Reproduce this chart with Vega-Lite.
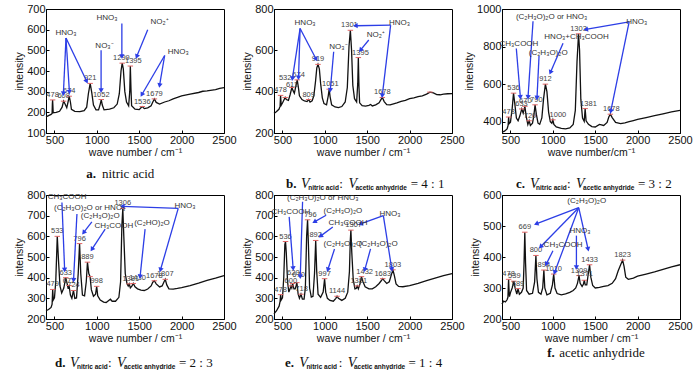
{
"$schema": "https://vega.github.io/schema/vega-lite/v6.json",
"background": "white",
"padding": {"left": 14, "top": 2, "right": 5, "bottom": 0},
"columns": 3,
"spacing": {"row": 62, "column": 50},
"bounds": "flush",
"config": {
  "view": {"stroke": "#000", "strokeWidth": 1},
  "axis": {"grid": false, "domainColor": "#000", "tickColor": "#000", "labelColor": "#111", "titleColor": "#111",
    "labelFont": "Liberation Sans", "titleFont": "Liberation Sans",
    "labelFontSize": 11, "titleFontSize": 10.5, "titleFontWeight": "normal", "tickSize": -3, "labelPadding": 4, "labelFlush": false},
  "axisX": {"titlePadding": 2},
  "axisY": {"titlePadding": 2}
},
"datasets": {
"sp": [
{"p":"a","x":400,"y":178},{"p":"a","x":430,"y":184},{"p":"a","x":460,"y":190},{"p":"a","x":472,"y":195},{"p":"a","x":475,"y":240},{"p":"a","x":478,"y":260},{"p":"a","x":481,"y":235},{"p":"a","x":485,"y":198},{"p":"a","x":520,"y":200},{"p":"a","x":560,"y":205},{"p":"a","x":590,"y":225},{"p":"a","x":608,"y":254},{"p":"a","x":625,"y":240},{"p":"a","x":645,"y":222},{"p":"a","x":660,"y":250},{"p":"a","x":674,"y":278},{"p":"a","x":688,"y":250},{"p":"a","x":700,"y":215},{"p":"a","x":740,"y":205},{"p":"a","x":800,"y":203},{"p":"a","x":850,"y":208},{"p":"a","x":880,"y":225},{"p":"a","x":900,"y":290},{"p":"a","x":921,"y":340},{"p":"a","x":940,"y":295},{"p":"a","x":960,"y":235},{"p":"a","x":990,"y":212},{"p":"a","x":1020,"y":212},{"p":"a","x":1040,"y":240},{"p":"a","x":1052,"y":262},{"p":"a","x":1064,"y":235},{"p":"a","x":1085,"y":212},{"p":"a","x":1150,"y":215},{"p":"a","x":1200,"y":222},{"p":"a","x":1240,"y":240},{"p":"a","x":1265,"y":290},{"p":"a","x":1285,"y":400},{"p":"a","x":1299,"y":438},{"p":"a","x":1312,"y":410},{"p":"a","x":1330,"y":300},{"p":"a","x":1350,"y":250},{"p":"a","x":1375,"y":232},{"p":"a","x":1388,"y":300},{"p":"a","x":1395,"y":424},{"p":"a","x":1402,"y":320},{"p":"a","x":1410,"y":232},{"p":"a","x":1450,"y":215},{"p":"a","x":1500,"y":213},{"p":"a","x":1520,"y":222},{"p":"a","x":1536,"y":228},{"p":"a","x":1560,"y":218},{"p":"a","x":1600,"y":222},{"p":"a","x":1640,"y":232},{"p":"a","x":1660,"y":250},{"p":"a","x":1679,"y":265},{"p":"a","x":1700,"y":248},{"p":"a","x":1740,"y":240},{"p":"a","x":1800,"y":250},{"p":"a","x":1850,"y":256},{"p":"a","x":1900,"y":265},{"p":"a","x":1950,"y":272},{"p":"a","x":2000,"y":280},{"p":"a","x":2100,"y":288},{"p":"a","x":2200,"y":296},{"p":"a","x":2250,"y":302},{"p":"a","x":2300,"y":304},{"p":"a","x":2400,"y":310},{"p":"a","x":2450,"y":316},{"p":"a","x":2500,"y":320},
{"p":"b","x":400,"y":295},{"p":"b","x":420,"y":300},{"p":"b","x":440,"y":308},{"p":"b","x":460,"y":316},{"p":"b","x":472,"y":330},{"p":"b","x":476,"y":368},{"p":"b","x":478,"y":382},{"p":"b","x":481,"y":360},{"p":"b","x":486,"y":335},{"p":"b","x":500,"y":345},{"p":"b","x":520,"y":362},{"p":"b","x":532,"y":372},{"p":"b","x":545,"y":362},{"p":"b","x":570,"y":358},{"p":"b","x":590,"y":385},{"p":"b","x":611,"y":420},{"p":"b","x":625,"y":405},{"p":"b","x":640,"y":392},{"p":"b","x":660,"y":430},{"p":"b","x":674,"y":457},{"p":"b","x":688,"y":420},{"p":"b","x":700,"y":380},{"p":"b","x":730,"y":362},{"p":"b","x":760,"y":355},{"p":"b","x":790,"y":352},{"p":"b","x":809,"y":362},{"p":"b","x":825,"y":350},{"p":"b","x":850,"y":356},{"p":"b","x":870,"y":380},{"p":"b","x":890,"y":450},{"p":"b","x":905,"y":515},{"p":"b","x":919,"y":532},{"p":"b","x":935,"y":510},{"p":"b","x":950,"y":440},{"p":"b","x":970,"y":370},{"p":"b","x":990,"y":342},{"p":"b","x":1020,"y":336},{"p":"b","x":1040,"y":380},{"p":"b","x":1051,"y":412},{"p":"b","x":1062,"y":375},{"p":"b","x":1080,"y":336},{"p":"b","x":1120,"y":326},{"p":"b","x":1160,"y":323},{"p":"b","x":1200,"y":328},{"p":"b","x":1240,"y":350},{"p":"b","x":1265,"y":420},{"p":"b","x":1285,"y":620},{"p":"b","x":1301,"y":697},{"p":"b","x":1315,"y":600},{"p":"b","x":1330,"y":430},{"p":"b","x":1350,"y":366},{"p":"b","x":1375,"y":350},{"p":"b","x":1388,"y":440},{"p":"b","x":1395,"y":565},{"p":"b","x":1402,"y":430},{"p":"b","x":1410,"y":346},{"p":"b","x":1440,"y":332},{"p":"b","x":1480,"y":330},{"p":"b","x":1520,"y":334},{"p":"b","x":1540,"y":338},{"p":"b","x":1560,"y":331},{"p":"b","x":1600,"y":336},{"p":"b","x":1640,"y":346},{"p":"b","x":1660,"y":360},{"p":"b","x":1678,"y":372},{"p":"b","x":1700,"y":352},{"p":"b","x":1730,"y":337},{"p":"b","x":1770,"y":336},{"p":"b","x":1800,"y":340},{"p":"b","x":1850,"y":346},{"p":"b","x":1900,"y":353},{"p":"b","x":1950,"y":358},{"p":"b","x":2000,"y":366},{"p":"b","x":2050,"y":370},{"p":"b","x":2100,"y":376},{"p":"b","x":2150,"y":380},{"p":"b","x":2200,"y":388},{"p":"b","x":2240,"y":398},{"p":"b","x":2280,"y":394},{"p":"b","x":2320,"y":386},{"p":"b","x":2360,"y":385},{"p":"b","x":2400,"y":388},{"p":"b","x":2450,"y":390},{"p":"b","x":2500,"y":391},
{"p":"c","x":400,"y":345},{"p":"c","x":430,"y":350},{"p":"c","x":460,"y":362},{"p":"c","x":472,"y":380},{"p":"c","x":478,"y":425},{"p":"c","x":484,"y":390},{"p":"c","x":500,"y":398},{"p":"c","x":520,"y":470},{"p":"c","x":536,"y":552},{"p":"c","x":550,"y":500},{"p":"c","x":570,"y":420},{"p":"c","x":590,"y":405},{"p":"c","x":610,"y":430},{"p":"c","x":633,"y":468},{"p":"c","x":650,"y":445},{"p":"c","x":670,"y":482},{"p":"c","x":685,"y":430},{"p":"c","x":705,"y":385},{"p":"c","x":720,"y":405},{"p":"c","x":735,"y":380},{"p":"c","x":760,"y":392},{"p":"c","x":775,"y":430},{"p":"c","x":790,"y":490},{"p":"c","x":805,"y":440},{"p":"c","x":825,"y":392},{"p":"c","x":845,"y":386},{"p":"c","x":870,"y":420},{"p":"c","x":890,"y":520},{"p":"c","x":912,"y":600},{"p":"c","x":930,"y":560},{"p":"c","x":950,"y":450},{"p":"c","x":970,"y":400},{"p":"c","x":988,"y":392},{"p":"c","x":1000,"y":410},{"p":"c","x":1012,"y":386},{"p":"c","x":1040,"y":372},{"p":"c","x":1100,"y":365},{"p":"c","x":1150,"y":362},{"p":"c","x":1200,"y":367},{"p":"c","x":1240,"y":385},{"p":"c","x":1265,"y":460},{"p":"c","x":1285,"y":720},{"p":"c","x":1303,"y":868},{"p":"c","x":1315,"y":780},{"p":"c","x":1330,"y":520},{"p":"c","x":1350,"y":420},{"p":"c","x":1370,"y":402},{"p":"c","x":1381,"y":470},{"p":"c","x":1392,"y":405},{"p":"c","x":1420,"y":386},{"p":"c","x":1460,"y":374},{"p":"c","x":1500,"y":372},{"p":"c","x":1550,"y":386},{"p":"c","x":1600,"y":380},{"p":"c","x":1640,"y":396},{"p":"c","x":1660,"y":425},{"p":"c","x":1678,"y":440},{"p":"c","x":1700,"y":422},{"p":"c","x":1740,"y":396},{"p":"c","x":1800,"y":390},{"p":"c","x":1850,"y":394},{"p":"c","x":1900,"y":400},{"p":"c","x":1950,"y":406},{"p":"c","x":2000,"y":412},{"p":"c","x":2100,"y":422},{"p":"c","x":2200,"y":432},{"p":"c","x":2300,"y":442},{"p":"c","x":2400,"y":452},{"p":"c","x":2500,"y":460},
{"p":"d","x":400,"y":240},{"p":"d","x":430,"y":246},{"p":"d","x":460,"y":256},{"p":"d","x":472,"y":272},{"p":"d","x":479,"y":343},{"p":"d","x":486,"y":292},{"p":"d","x":500,"y":302},{"p":"d","x":515,"y":380},{"p":"d","x":533,"y":600},{"p":"d","x":548,"y":480},{"p":"d","x":565,"y":360},{"p":"d","x":585,"y":326},{"p":"d","x":610,"y":350},{"p":"d","x":633,"y":400},{"p":"d","x":650,"y":370},{"p":"d","x":662,"y":346},{"p":"d","x":672,"y":362},{"p":"d","x":688,"y":316},{"p":"d","x":705,"y":300},{"p":"d","x":724,"y":338},{"p":"d","x":740,"y":300},{"p":"d","x":760,"y":302},{"p":"d","x":780,"y":420},{"p":"d","x":796,"y":565},{"p":"d","x":810,"y":420},{"p":"d","x":830,"y":316},{"p":"d","x":855,"y":312},{"p":"d","x":875,"y":380},{"p":"d","x":889,"y":475},{"p":"d","x":905,"y":420},{"p":"d","x":920,"y":405},{"p":"d","x":935,"y":342},{"p":"d","x":960,"y":310},{"p":"d","x":985,"y":320},{"p":"d","x":998,"y":358},{"p":"d","x":1010,"y":312},{"p":"d","x":1040,"y":292},{"p":"d","x":1080,"y":282},{"p":"d","x":1110,"y":280},{"p":"d","x":1140,"y":290},{"p":"d","x":1160,"y":296},{"p":"d","x":1180,"y":286},{"p":"d","x":1220,"y":286},{"p":"d","x":1260,"y":305},{"p":"d","x":1280,"y":380},{"p":"d","x":1295,"y":650},{"p":"d","x":1306,"y":735},{"p":"d","x":1318,"y":600},{"p":"d","x":1335,"y":420},{"p":"d","x":1355,"y":372},{"p":"d","x":1370,"y":360},{"p":"d","x":1381,"y":370},{"p":"d","x":1395,"y":350},{"p":"d","x":1415,"y":360},{"p":"d","x":1430,"y":372},{"p":"d","x":1450,"y":356},{"p":"d","x":1480,"y":346},{"p":"d","x":1520,"y":340},{"p":"d","x":1560,"y":338},{"p":"d","x":1600,"y":345},{"p":"d","x":1640,"y":360},{"p":"d","x":1660,"y":378},{"p":"d","x":1678,"y":385},{"p":"d","x":1700,"y":370},{"p":"d","x":1740,"y":355},{"p":"d","x":1770,"y":360},{"p":"d","x":1790,"y":378},{"p":"d","x":1807,"y":392},{"p":"d","x":1825,"y":365},{"p":"d","x":1850,"y":346},{"p":"d","x":1900,"y":345},{"p":"d","x":1950,"y":348},{"p":"d","x":2000,"y":352},{"p":"d","x":2100,"y":362},{"p":"d","x":2200,"y":374},{"p":"d","x":2300,"y":387},{"p":"d","x":2400,"y":398},{"p":"d","x":2500,"y":410},
{"p":"e","x":400,"y":225},{"p":"e","x":430,"y":240},{"p":"e","x":460,"y":262},{"p":"e","x":472,"y":285},{"p":"e","x":478,"y":318},{"p":"e","x":485,"y":292},{"p":"e","x":500,"y":302},{"p":"e","x":515,"y":400},{"p":"e","x":528,"y":560},{"p":"e","x":536,"y":575},{"p":"e","x":545,"y":520},{"p":"e","x":560,"y":380},{"p":"e","x":575,"y":330},{"p":"e","x":590,"y":346},{"p":"e","x":600,"y":360},{"p":"e","x":610,"y":350},{"p":"e","x":620,"y":372},{"p":"e","x":635,"y":346},{"p":"e","x":650,"y":346},{"p":"e","x":660,"y":360},{"p":"e","x":670,"y":376},{"p":"e","x":685,"y":320},{"p":"e","x":700,"y":300},{"p":"e","x":718,"y":320},{"p":"e","x":735,"y":296},{"p":"e","x":755,"y":296},{"p":"e","x":770,"y":350},{"p":"e","x":785,"y":600},{"p":"e","x":796,"y":680},{"p":"e","x":806,"y":560},{"p":"e","x":820,"y":350},{"p":"e","x":840,"y":306},{"p":"e","x":860,"y":310},{"p":"e","x":878,"y":420},{"p":"e","x":892,"y":580},{"p":"e","x":904,"y":430},{"p":"e","x":920,"y":320},{"p":"e","x":950,"y":305},{"p":"e","x":980,"y":330},{"p":"e","x":997,"y":395},{"p":"e","x":1010,"y":330},{"p":"e","x":1030,"y":300},{"p":"e","x":1060,"y":290},{"p":"e","x":1100,"y":286},{"p":"e","x":1130,"y":300},{"p":"e","x":1144,"y":310},{"p":"e","x":1160,"y":300},{"p":"e","x":1200,"y":290},{"p":"e","x":1240,"y":300},{"p":"e","x":1270,"y":330},{"p":"e","x":1290,"y":430},{"p":"e","x":1300,"y":580},{"p":"e","x":1307,"y":630},{"p":"e","x":1318,"y":520},{"p":"e","x":1335,"y":390},{"p":"e","x":1355,"y":346},{"p":"e","x":1370,"y":348},{"p":"e","x":1381,"y":360},{"p":"e","x":1395,"y":346},{"p":"e","x":1415,"y":370},{"p":"e","x":1432,"y":405},{"p":"e","x":1450,"y":380},{"p":"e","x":1475,"y":356},{"p":"e","x":1520,"y":346},{"p":"e","x":1560,"y":346},{"p":"e","x":1600,"y":356},{"p":"e","x":1640,"y":372},{"p":"e","x":1665,"y":385},{"p":"e","x":1683,"y":395},{"p":"e","x":1700,"y":386},{"p":"e","x":1730,"y":372},{"p":"e","x":1760,"y":380},{"p":"e","x":1785,"y":415},{"p":"e","x":1803,"y":438},{"p":"e","x":1820,"y":410},{"p":"e","x":1840,"y":370},{"p":"e","x":1870,"y":358},{"p":"e","x":1920,"y":356},{"p":"e","x":2000,"y":362},{"p":"e","x":2100,"y":372},{"p":"e","x":2200,"y":386},{"p":"e","x":2300,"y":398},{"p":"e","x":2400,"y":410},{"p":"e","x":2500,"y":420},
{"p":"f","x":400,"y":248},{"p":"f","x":420,"y":258},{"p":"f","x":440,"y":255},{"p":"f","x":460,"y":262},{"p":"f","x":470,"y":270},{"p":"f","x":475,"y":310},{"p":"f","x":478,"y":328},{"p":"f","x":482,"y":300},{"p":"f","x":488,"y":272},{"p":"f","x":500,"y":285},{"p":"f","x":520,"y":300},{"p":"f","x":539,"y":322},{"p":"f","x":555,"y":300},{"p":"f","x":575,"y":280},{"p":"f","x":589,"y":298},{"p":"f","x":605,"y":280},{"p":"f","x":630,"y":286},{"p":"f","x":650,"y":300},{"p":"f","x":660,"y":380},{"p":"f","x":669,"y":480},{"p":"f","x":678,"y":380},{"p":"f","x":690,"y":292},{"p":"f","x":720,"y":280},{"p":"f","x":760,"y":283},{"p":"f","x":785,"y":320},{"p":"f","x":800,"y":405},{"p":"f","x":812,"y":330},{"p":"f","x":830,"y":286},{"p":"f","x":860,"y":280},{"p":"f","x":880,"y":300},{"p":"f","x":894,"y":358},{"p":"f","x":905,"y":300},{"p":"f","x":930,"y":278},{"p":"f","x":970,"y":283},{"p":"f","x":995,"y":310},{"p":"f","x":1010,"y":345},{"p":"f","x":1025,"y":300},{"p":"f","x":1050,"y":282},{"p":"f","x":1100,"y":278},{"p":"f","x":1150,"y":281},{"p":"f","x":1200,"y":286},{"p":"f","x":1240,"y":292},{"p":"f","x":1270,"y":300},{"p":"f","x":1290,"y":315},{"p":"f","x":1309,"y":340},{"p":"f","x":1322,"y":315},{"p":"f","x":1345,"y":305},{"p":"f","x":1360,"y":312},{"p":"f","x":1371,"y":325},{"p":"f","x":1382,"y":310},{"p":"f","x":1400,"y":310},{"p":"f","x":1420,"y":350},{"p":"f","x":1433,"y":375},{"p":"f","x":1448,"y":335},{"p":"f","x":1470,"y":308},{"p":"f","x":1500,"y":300},{"p":"f","x":1550,"y":302},{"p":"f","x":1600,"y":305},{"p":"f","x":1650,"y":308},{"p":"f","x":1700,"y":315},{"p":"f","x":1740,"y":330},{"p":"f","x":1770,"y":355},{"p":"f","x":1800,"y":375},{"p":"f","x":1823,"y":390},{"p":"f","x":1840,"y":370},{"p":"f","x":1860,"y":335},{"p":"f","x":1890,"y":328},{"p":"f","x":1950,"y":332},{"p":"f","x":2000,"y":338},{"p":"f","x":2100,"y":345},{"p":"f","x":2200,"y":352},{"p":"f","x":2300,"y":360},{"p":"f","x":2400,"y":368},{"p":"f","x":2500,"y":375}
],
"pk": [
{"p":"a","x":478,"y":260},{"p":"a","x":608,"y":254},{"p":"a","x":674,"y":278},{"p":"a","x":921,"y":340},{"p":"a","x":1052,"y":262},{"p":"a","x":1299,"y":438},{"p":"a","x":1395,"y":424},{"p":"a","x":1536,"y":228},{"p":"a","x":1679,"y":265},
{"p":"b","x":478,"y":382},{"p":"b","x":532,"y":372},{"p":"b","x":611,"y":420},{"p":"b","x":674,"y":457},{"p":"b","x":809,"y":362},{"p":"b","x":919,"y":532},{"p":"b","x":1051,"y":412},{"p":"b","x":1301,"y":697},{"p":"b","x":1395,"y":565},{"p":"b","x":1678,"y":372},{"p":"b","x":2240,"y":398},
{"p":"c","x":478,"y":425},{"p":"c","x":536,"y":552},{"p":"c","x":633,"y":468},{"p":"c","x":670,"y":482},{"p":"c","x":720,"y":405},{"p":"c","x":790,"y":490},{"p":"c","x":912,"y":600},{"p":"c","x":1000,"y":410},{"p":"c","x":1303,"y":868},{"p":"c","x":1381,"y":470},{"p":"c","x":1678,"y":440},
{"p":"d","x":479,"y":343},{"p":"d","x":533,"y":600},{"p":"d","x":633,"y":400},{"p":"d","x":672,"y":362},{"p":"d","x":724,"y":338},{"p":"d","x":796,"y":565},{"p":"d","x":889,"y":475},{"p":"d","x":920,"y":405},{"p":"d","x":998,"y":358},{"p":"d","x":1306,"y":735},{"p":"d","x":1381,"y":370},{"p":"d","x":1430,"y":372},{"p":"d","x":1678,"y":385},{"p":"d","x":1807,"y":392},
{"p":"e","x":478,"y":318},{"p":"e","x":536,"y":575},{"p":"e","x":600,"y":360},{"p":"e","x":620,"y":372},{"p":"e","x":670,"y":376},{"p":"e","x":718,"y":320},{"p":"e","x":796,"y":680},{"p":"e","x":892,"y":580},{"p":"e","x":997,"y":395},{"p":"e","x":1144,"y":310},{"p":"e","x":1307,"y":630},{"p":"e","x":1381,"y":360},{"p":"e","x":1432,"y":405},{"p":"e","x":1683,"y":395},{"p":"e","x":1803,"y":438},
{"p":"f","x":478,"y":328},{"p":"f","x":539,"y":322},{"p":"f","x":589,"y":298},{"p":"f","x":669,"y":480},{"p":"f","x":800,"y":405},{"p":"f","x":894,"y":358},{"p":"f","x":1010,"y":345},{"p":"f","x":1309,"y":340},{"p":"f","x":1371,"y":325},{"p":"f","x":1433,"y":375},{"p":"f","x":1823,"y":390}
],
"pl": [
{"p":"a","x":478,"y":260,"t":"478"},{"p":"a","x":608,"y":254,"t":"608"},{"p":"a","x":674,"y":278,"t":"674"},{"p":"a","x":921,"y":340,"t":"921"},{"p":"a","x":1052,"y":262,"t":"1052"},{"p":"a","x":1290,"y":438,"t":"1299"},{"p":"a","x":1430,"y":424,"t":"1395"},{"p":"a","x":1536,"y":228,"t":"1536"},{"p":"a","x":1679,"y":265,"t":"1679"},
{"p":"b","x":478,"y":382,"t":"478"},{"p":"b","x":532,"y":440,"t":"532"},{"p":"b","x":611,"y":410,"t":"611"},{"p":"b","x":690,"y":457,"t":"674"},{"p":"b","x":809,"y":362,"t":"809"},{"p":"b","x":919,"y":532,"t":"919"},{"p":"b","x":1065,"y":412,"t":"1051"},{"p":"b","x":1290,"y":697,"t":"1301"},{"p":"b","x":1420,"y":565,"t":"1395"},{"p":"b","x":1678,"y":372,"t":"1678"},
{"p":"c","x":478,"y":425,"t":"478"},{"p":"c","x":536,"y":552,"t":"536"},{"p":"c","x":630,"y":468,"t":"633"},{"p":"c","x":675,"y":485,"t":"670"},{"p":"c","x":730,"y":405,"t":"720"},{"p":"c","x":805,"y":490,"t":"790"},{"p":"c","x":912,"y":600,"t":"912"},{"p":"c","x":1060,"y":410,"t":"1000"},{"p":"c","x":1303,"y":868,"t":"1303"},{"p":"c","x":1420,"y":470,"t":"1381"},{"p":"c","x":1690,"y":440,"t":"1678"},
{"p":"d","x":479,"y":343,"t":"479"},{"p":"d","x":533,"y":600,"t":"533"},{"p":"d","x":633,"y":400,"t":"633"},{"p":"d","x":672,"y":362,"t":"672"},{"p":"d","x":724,"y":338,"t":"724"},{"p":"d","x":796,"y":565,"t":"796"},{"p":"d","x":889,"y":475,"t":"889"},{"p":"d","x":998,"y":358,"t":"998"},{"p":"d","x":1306,"y":738,"t":"1306"},{"p":"d","x":1400,"y":370,"t":"1381"},{"p":"d","x":1480,"y":372,"t":"1430"},{"p":"d","x":1678,"y":385,"t":"1678"},{"p":"d","x":1807,"y":392,"t":"1807"},
{"p":"e","x":478,"y":318,"t":"478"},{"p":"e","x":536,"y":575,"t":"536"},{"p":"e","x":598,"y":362,"t":"600"},{"p":"e","x":628,"y":400,"t":"620"},{"p":"e","x":690,"y":390,"t":"670"},{"p":"e","x":725,"y":320,"t":"718"},{"p":"e","x":830,"y":680,"t":"796"},{"p":"e","x":892,"y":580,"t":"892"},{"p":"e","x":997,"y":395,"t":"997"},{"p":"e","x":1144,"y":310,"t":"1144"},{"p":"e","x":1340,"y":630,"t":"1307"},{"p":"e","x":1400,"y":362,"t":"1381"},{"p":"e","x":1470,"y":405,"t":"1432"},{"p":"e","x":1683,"y":395,"t":"1683"},{"p":"e","x":1803,"y":438,"t":"1803"},
{"p":"f","x":478,"y":328,"t":"478"},{"p":"f","x":545,"y":322,"t":"539"},{"p":"f","x":589,"y":298,"t":"589"},{"p":"f","x":669,"y":480,"t":"669"},{"p":"f","x":800,"y":405,"t":"800"},{"p":"f","x":894,"y":358,"t":"894"},{"p":"f","x":1010,"y":345,"t":"1010"},{"p":"f","x":1309,"y":340,"t":"1309"},{"p":"f","x":1375,"y":328,"t":"1371"},{"p":"f","x":1433,"y":375,"t":"1433"},{"p":"f","x":1823,"y":390,"t":"1823"}
],
"an": [
{"p":"a","x":636,"y":585,"t":"HNO₃"},{"p":"a","x":1090,"y":522,"t":"NO₃⁻"},{"p":"a","x":1120,"y":655,"t":"HNO₃"},{"p":"a","x":1740,"y":635,"t":"NO₂⁺"},{"p":"a","x":1960,"y":490,"t":"HNO₃"},
{"p":"b","x":767,"y":730,"t":"HNO₃"},{"p":"b","x":1160,"y":617,"t":"NO₃⁻"},{"p":"b","x":1880,"y":730,"t":"HNO₃"},{"p":"b","x":1600,"y":675,"t":"NO₂⁺"},
{"p":"c","x":600,"y":813,"t":"CH₃COOH"},{"p":"c","x":985,"y":958,"t":"(C₂H₃O)₂O or HNO₃"},{"p":"c","x":945,"y":767,"t":"(C₂H₃O)₂O"},{"p":"c","x":1280,"y":849,"t":"HNO₃+CH₃COOH"},{"p":"c","x":1990,"y":931,"t":"HNO₃"},
{"p":"d","x":650,"y":789,"t":"CH₃COOH"},{"p":"d","x":915,"y":735,"t":"(C₂H₃O)₂O or HNO₃"},{"p":"d","x":1040,"y":696,"t":"(C₂H₃O)₂O"},{"p":"d","x":1200,"y":651,"t":"CH₃COOH"},{"p":"d","x":1650,"y":664,"t":"(C₂HO)₂O"},{"p":"d","x":2040,"y":745,"t":"HNO₃"},
{"p":"e","x":598,"y":718,"t":"CH₃COOH"},{"p":"e","x":975,"y":784,"t":"(C₂H₃O)₂O or HNO₃"},{"p":"e","x":1213,"y":722,"t":"(C₂H₃O)₂O"},{"p":"e","x":1273,"y":666,"t":"CH₃COOH"},{"p":"e","x":1213,"y":563,"t":"(C₂H₃O)₂O"},{"p":"e","x":1769,"y":710,"t":"HNO₃"},{"p":"e","x":1630,"y":563,"t":"(C₂H₃O)₂O"},
{"p":"f","x":1400,"y":580,"t":"(C₂H₃O)₂O"},{"p":"f","x":1320,"y":485,"t":"HNO₃"},{"p":"f","x":1120,"y":440,"t":"CH₃COOH"}
],
"ar": [
{"p":"a","x":605,"y":290,"x2":636,"y2":560},{"p":"a","x":676,"y":298,"x2":636,"y2":560},{"p":"a","x":880,"y":350,"x2":636,"y2":560},{"p":"a","x":1050,"y":305,"x2":1050,"y2":500},{"p":"a","x":1295,"y":470,"x2":1295,"y2":630},{"p":"a","x":1470,"y":470,"x2":1600,"y2":600},{"p":"a","x":1530,"y":285,"x2":1800,"y2":475},{"p":"a","x":1740,"y":330,"x2":1800,"y2":475},
{"p":"b","x":617,"y":463,"x2":708,"y2":706},{"p":"b","x":689,"y":467,"x2":708,"y2":706},{"p":"b","x":898,"y":557,"x2":708,"y2":706},{"p":"b","x":1064,"y":407,"x2":1104,"y2":593},{"p":"b","x":1360,"y":719,"x2":1776,"y2":722},{"p":"b","x":1677,"y":380,"x2":1776,"y2":722},{"p":"b","x":1420,"y":601,"x2":1518,"y2":650},
{"p":"c","x":617,"y":530,"x2":569,"y2":790},{"p":"c","x":707,"y":530,"x2":766,"y2":935},{"p":"c","x":813,"y":527,"x2":837,"y2":750},{"p":"c","x":971,"y":662,"x2":1120,"y2":818},{"p":"c","x":1388,"y":891,"x2":1900,"y2":931},{"p":"c","x":1683,"y":455,"x2":1900,"y2":931},
{"p":"d","x":620,"y":437,"x2":588,"y2":764},{"p":"d","x":725,"y":388,"x2":765,"y2":708},{"p":"d","x":843,"y":618,"x2":941,"y2":670},{"p":"d","x":941,"y":537,"x2":1098,"y2":635},{"p":"d","x":1510,"y":405,"x2":1569,"y2":635},{"p":"d","x":1300,"y":745,"x2":1960,"y2":735},{"p":"d","x":1750,"y":437,"x2":1960,"y2":735},
{"p":"e","x":626,"y":444,"x2":579,"y2":694},{"p":"e","x":710,"y":405,"x2":737,"y2":767},{"p":"e","x":876,"y":670,"x2":1015,"y2":702},{"p":"e","x":948,"y":601,"x2":1094,"y2":645},{"p":"e","x":1035,"y":438,"x2":1114,"y2":539},{"p":"e","x":1420,"y":660,"x2":1690,"y2":700},{"p":"e","x":1790,"y":440,"x2":1690,"y2":700},{"p":"e","x":1471,"y":438,"x2":1539,"y2":539},
{"p":"f","x":803,"y":507,"x2":1305,"y2":559},{"p":"f","x":855,"y":433,"x2":1305,"y2":559},{"p":"f","x":1020,"y":350,"x2":1305,"y2":559},{"p":"f","x":1416,"y":425,"x2":1305,"y2":559},{"p":"f","x":1278,"y":366,"x2":1278,"y2":469},{"p":"f","x":922,"y":377,"x2":1001,"y2":420}
],
"sh": [
{"p":"a","x":874,"y":-98,"t":"a."},{"p":"b","x":542,"y":-47,"t":"b."},{"p":"c","x":565,"y":69,"t":"c."},{"p":"d","x":506,"y":-14,"t":"d."},{"p":"e","x":531,"y":-14,"t":"e."},{"p":"f","x":934,"y":90,"t":"f."}
],
"sv": [
{"p":"b","x":720,"y":-47,"t":"V"},{"p":"b","x":1278,"y":-47,"t":"V"},
{"p":"c","x":730,"y":69,"t":"V"},{"p":"c","x":1273,"y":69,"t":"V"},
{"p":"d","x":683,"y":-14,"t":"V"},{"p":"d","x":1238,"y":-14,"t":"V"},
{"p":"e","x":698,"y":-14,"t":"V"},{"p":"e","x":1271,"y":-14,"t":"V"}
],
"ss": [
{"p":"b","x":803,"y":-66,"t":"nitric acid"},{"p":"b","x":1361,"y":-66,"t":"acetic anhydride"},
{"p":"c","x":801,"y":48,"t":"nitric acid"},{"p":"c","x":1356,"y":48,"t":"acetic anhydride"},
{"p":"d","x":766,"y":-33,"t":"nitric acid"},{"p":"d","x":1320,"y":-33,"t":"acetic anhydride"},
{"p":"e","x":782,"y":-33,"t":"nitric acid"},{"p":"e","x":1343,"y":-33,"t":"acetic anhydride"}
],
"sr": [
{"p":"a","x":1060,"y":-98,"t":"nitric acid"},
{"p":"b","x":1171,"y":-47,"t":":"},{"p":"b","x":2013,"y":-47,"t":"= 4 : 1"},
{"p":"c","x":1167,"y":69,"t":":"},{"p":"c","x":2005,"y":69,"t":"= 3 : 2"},
{"p":"d","x":1132,"y":-14,"t":":"},{"p":"d","x":1969,"y":-14,"t":"= 2 : 3"},
{"p":"e","x":1163,"y":-14,"t":":"},{"p":"e","x":1987,"y":-14,"t":"= 1 : 4"},
{"p":"f","x":1075,"y":90,"t":"acetic anhydride"}
]
},
"concat": [
{
 "width": 178, "height": 124,
 "encoding": {
  "x": {"field": "x", "type": "quantitative", "scale": {"domain": [400, 2500], "nice": false, "zero": false}, "axis": {"values": [500, 1000, 1500, 2000, 2500], "format": "d", "title": "wave number / cm⁻¹"}},
  "y": {"field": "y", "type": "quantitative", "scale": {"domain": [100, 700], "nice": false, "zero": false}, "axis": {"values": [100, 200, 300, 400, 500, 600, 700], "format": "d", "title": "intensity"}}
 },
 "layer": [
  {"data": {"name": "sp"}, "transform": [{"filter": "datum.p == 'a'"}], "mark": {"type": "line", "color": "#111", "strokeWidth": 1.3}},
  {"data": {"name": "pk"}, "transform": [{"filter": "datum.p == 'a'"}], "mark": {"type": "point", "shape": "stroke", "color": "#e06666", "size": 30, "strokeWidth": 1, "opacity": 1}},
  {"data": {"name": "pl"}, "transform": [{"filter": "datum.p == 'a'"}], "mark": {"type": "text", "font": "Liberation Sans", "fontSize": 7.5, "color": "#444", "baseline": "bottom", "dy": -1}, "encoding": {"text": {"field": "t"}}},
  {"data": {"name": "ar"}, "transform": [{"filter": "datum.p == 'a'"}], "mark": {"type": "rule", "color": "#2c3ee6", "strokeWidth": 1.3}, "encoding": {"x2": {"field": "x2"}, "y2": {"field": "y2"}}},
  {"data": {"name": "ar"}, "transform": [{"filter": "datum.p == 'a'"}, {"calculate": "atan2((datum.x-datum.x2)*0.08476,(datum.y-datum.y2)*0.2067)*180/PI", "as": "ang"}], "mark": {"type": "point", "shape": "triangle-up", "filled": true, "color": "#2c3ee6", "size": 28, "opacity": 1}, "encoding": {"angle": {"field": "ang", "type": "quantitative", "scale": null}}},
  {"data": {"name": "an"}, "transform": [{"filter": "datum.p == 'a'"}], "mark": {"type": "text", "font": "Liberation Sans", "fontSize": 8, "color": "#333"}, "encoding": {"text": {"field": "t"}}},
  {"data": {"name": "sh"}, "transform": [{"filter": "datum.p == 'a'"}], "mark": {"type": "text", "font": "Liberation Serif", "fontSize": 13, "fontWeight": "bold", "align": "left", "color": "#111"}, "encoding": {"text": {"field": "t"}}},
  {"data": {"name": "sr"}, "transform": [{"filter": "datum.p == 'a'"}], "mark": {"type": "text", "font": "Liberation Serif", "fontSize": 13, "align": "left", "color": "#111"}, "encoding": {"text": {"field": "t"}}}
 ]
},
{
 "width": 178, "height": 124,
 "encoding": {
  "x": {"field": "x", "type": "quantitative", "scale": {"domain": [400, 2500], "nice": false, "zero": false}, "axis": {"values": [500, 1000, 1500, 2000, 2500], "format": "d", "title": "wave number / cm⁻¹"}},
  "y": {"field": "y", "type": "quantitative", "scale": {"domain": [200, 800], "nice": false, "zero": false}, "axis": {"values": [200, 400, 600, 800], "format": "d", "title": "intensity"}}
 },
 "layer": [
  {"data": {"name": "sp"}, "transform": [{"filter": "datum.p == 'b'"}], "mark": {"type": "line", "color": "#111", "strokeWidth": 1.3}},
  {"data": {"name": "pk"}, "transform": [{"filter": "datum.p == 'b'"}], "mark": {"type": "point", "shape": "stroke", "color": "#e06666", "size": 30, "strokeWidth": 1, "opacity": 1}},
  {"data": {"name": "pl"}, "transform": [{"filter": "datum.p == 'b'"}], "mark": {"type": "text", "font": "Liberation Sans", "fontSize": 7.5, "color": "#444", "baseline": "bottom", "dy": -1}, "encoding": {"text": {"field": "t"}}},
  {"data": {"name": "ar"}, "transform": [{"filter": "datum.p == 'b'"}], "mark": {"type": "rule", "color": "#2c3ee6", "strokeWidth": 1.3}, "encoding": {"x2": {"field": "x2"}, "y2": {"field": "y2"}}},
  {"data": {"name": "ar"}, "transform": [{"filter": "datum.p == 'b'"}, {"calculate": "atan2((datum.x-datum.x2)*0.08476,(datum.y-datum.y2)*0.2067)*180/PI", "as": "ang"}], "mark": {"type": "point", "shape": "triangle-up", "filled": true, "color": "#2c3ee6", "size": 28, "opacity": 1}, "encoding": {"angle": {"field": "ang", "type": "quantitative", "scale": null}}},
  {"data": {"name": "an"}, "transform": [{"filter": "datum.p == 'b'"}], "mark": {"type": "text", "font": "Liberation Sans", "fontSize": 8, "color": "#333"}, "encoding": {"text": {"field": "t"}}},
  {"data": {"name": "sh"}, "transform": [{"filter": "datum.p == 'b'"}], "mark": {"type": "text", "font": "Liberation Serif", "fontSize": 13, "fontWeight": "bold", "align": "left", "color": "#111"}, "encoding": {"text": {"field": "t"}}},
  {"data": {"name": "sv"}, "transform": [{"filter": "datum.p == 'b'"}], "mark": {"type": "text", "font": "Liberation Serif", "fontSize": 14, "fontStyle": "italic", "align": "left", "color": "#111"}, "encoding": {"text": {"field": "t"}}},
  {"data": {"name": "ss"}, "transform": [{"filter": "datum.p == 'b'"}], "mark": {"type": "text", "font": "Liberation Sans", "fontSize": 6.5, "fontWeight": "bold", "align": "left", "color": "#111"}, "encoding": {"text": {"field": "t"}}},
  {"data": {"name": "sr"}, "transform": [{"filter": "datum.p == 'b'"}], "mark": {"type": "text", "font": "Liberation Serif", "fontSize": 13, "align": "left", "color": "#111"}, "encoding": {"text": {"field": "t"}}}
 ]
},
{
 "width": 178, "height": 124,
 "encoding": {
  "x": {"field": "x", "type": "quantitative", "scale": {"domain": [400, 2500], "nice": false, "zero": false}, "axis": {"values": [500, 1000, 1500, 2000, 2500], "format": "d", "title": "wave number/cm⁻¹"}},
  "y": {"field": "y", "type": "quantitative", "scale": {"domain": [340, 1000], "nice": false, "zero": false}, "axis": {"values": [400, 600, 800, 1000], "format": "d", "title": "intensity"}}
 },
 "layer": [
  {"data": {"name": "sp"}, "transform": [{"filter": "datum.p == 'c'"}], "mark": {"type": "line", "color": "#111", "strokeWidth": 1.3}},
  {"data": {"name": "pk"}, "transform": [{"filter": "datum.p == 'c'"}], "mark": {"type": "point", "shape": "stroke", "color": "#e06666", "size": 30, "strokeWidth": 1, "opacity": 1}},
  {"data": {"name": "pl"}, "transform": [{"filter": "datum.p == 'c'"}], "mark": {"type": "text", "font": "Liberation Sans", "fontSize": 7.5, "color": "#444", "baseline": "bottom", "dy": -1}, "encoding": {"text": {"field": "t"}}},
  {"data": {"name": "ar"}, "transform": [{"filter": "datum.p == 'c'"}], "mark": {"type": "rule", "color": "#2c3ee6", "strokeWidth": 1.3}, "encoding": {"x2": {"field": "x2"}, "y2": {"field": "y2"}}},
  {"data": {"name": "ar"}, "transform": [{"filter": "datum.p == 'c'"}, {"calculate": "atan2((datum.x-datum.x2)*0.08476,(datum.y-datum.y2)*0.1879)*180/PI", "as": "ang"}], "mark": {"type": "point", "shape": "triangle-up", "filled": true, "color": "#2c3ee6", "size": 28, "opacity": 1}, "encoding": {"angle": {"field": "ang", "type": "quantitative", "scale": null}}},
  {"data": {"name": "an"}, "transform": [{"filter": "datum.p == 'c'"}], "mark": {"type": "text", "font": "Liberation Sans", "fontSize": 8, "color": "#333"}, "encoding": {"text": {"field": "t"}}},
  {"data": {"name": "sh"}, "transform": [{"filter": "datum.p == 'c'"}], "mark": {"type": "text", "font": "Liberation Serif", "fontSize": 13, "fontWeight": "bold", "align": "left", "color": "#111"}, "encoding": {"text": {"field": "t"}}},
  {"data": {"name": "sv"}, "transform": [{"filter": "datum.p == 'c'"}], "mark": {"type": "text", "font": "Liberation Serif", "fontSize": 14, "fontStyle": "italic", "align": "left", "color": "#111"}, "encoding": {"text": {"field": "t"}}},
  {"data": {"name": "ss"}, "transform": [{"filter": "datum.p == 'c'"}], "mark": {"type": "text", "font": "Liberation Sans", "fontSize": 6.5, "fontWeight": "bold", "align": "left", "color": "#111"}, "encoding": {"text": {"field": "t"}}},
  {"data": {"name": "sr"}, "transform": [{"filter": "datum.p == 'c'"}], "mark": {"type": "text", "font": "Liberation Serif", "fontSize": 13, "align": "left", "color": "#111"}, "encoding": {"text": {"field": "t"}}}
 ]
},
{
 "width": 178, "height": 124,
 "encoding": {
  "x": {"field": "x", "type": "quantitative", "scale": {"domain": [400, 2500], "nice": false, "zero": false}, "axis": {"values": [500, 1000, 1500, 2000, 2500], "format": "d", "title": "wave number / cm⁻¹"}},
  "y": {"field": "y", "type": "quantitative", "scale": {"domain": [200, 800], "nice": false, "zero": false}, "axis": {"values": [200, 300, 400, 500, 600, 700, 800], "format": "d", "title": "intensity"}}
 },
 "layer": [
  {"data": {"name": "sp"}, "transform": [{"filter": "datum.p == 'd'"}], "mark": {"type": "line", "color": "#111", "strokeWidth": 1.3}},
  {"data": {"name": "pk"}, "transform": [{"filter": "datum.p == 'd'"}], "mark": {"type": "point", "shape": "stroke", "color": "#e06666", "size": 30, "strokeWidth": 1, "opacity": 1}},
  {"data": {"name": "pl"}, "transform": [{"filter": "datum.p == 'd'"}], "mark": {"type": "text", "font": "Liberation Sans", "fontSize": 7.5, "color": "#444", "baseline": "bottom", "dy": -1}, "encoding": {"text": {"field": "t"}}},
  {"data": {"name": "ar"}, "transform": [{"filter": "datum.p == 'd'"}], "mark": {"type": "rule", "color": "#2c3ee6", "strokeWidth": 1.3}, "encoding": {"x2": {"field": "x2"}, "y2": {"field": "y2"}}},
  {"data": {"name": "ar"}, "transform": [{"filter": "datum.p == 'd'"}, {"calculate": "atan2((datum.x-datum.x2)*0.08476,(datum.y-datum.y2)*0.2067)*180/PI", "as": "ang"}], "mark": {"type": "point", "shape": "triangle-up", "filled": true, "color": "#2c3ee6", "size": 28, "opacity": 1}, "encoding": {"angle": {"field": "ang", "type": "quantitative", "scale": null}}},
  {"data": {"name": "an"}, "transform": [{"filter": "datum.p == 'd'"}], "mark": {"type": "text", "font": "Liberation Sans", "fontSize": 8, "color": "#333"}, "encoding": {"text": {"field": "t"}}},
  {"data": {"name": "sh"}, "transform": [{"filter": "datum.p == 'd'"}], "mark": {"type": "text", "font": "Liberation Serif", "fontSize": 13, "fontWeight": "bold", "align": "left", "color": "#111"}, "encoding": {"text": {"field": "t"}}},
  {"data": {"name": "sv"}, "transform": [{"filter": "datum.p == 'd'"}], "mark": {"type": "text", "font": "Liberation Serif", "fontSize": 14, "fontStyle": "italic", "align": "left", "color": "#111"}, "encoding": {"text": {"field": "t"}}},
  {"data": {"name": "ss"}, "transform": [{"filter": "datum.p == 'd'"}], "mark": {"type": "text", "font": "Liberation Sans", "fontSize": 6.5, "fontWeight": "bold", "align": "left", "color": "#111"}, "encoding": {"text": {"field": "t"}}},
  {"data": {"name": "sr"}, "transform": [{"filter": "datum.p == 'd'"}], "mark": {"type": "text", "font": "Liberation Serif", "fontSize": 13, "align": "left", "color": "#111"}, "encoding": {"text": {"field": "t"}}}
 ]
},
{
 "width": 178, "height": 124,
 "encoding": {
  "x": {"field": "x", "type": "quantitative", "scale": {"domain": [400, 2500], "nice": false, "zero": false}, "axis": {"values": [500, 1000, 1500, 2000, 2500], "format": "d", "title": "wave number / cm⁻¹"}},
  "y": {"field": "y", "type": "quantitative", "scale": {"domain": [200, 800], "nice": false, "zero": false}, "axis": {"values": [200, 300, 400, 500, 600, 700, 800], "format": "d", "title": "intensity"}}
 },
 "layer": [
  {"data": {"name": "sp"}, "transform": [{"filter": "datum.p == 'e'"}], "mark": {"type": "line", "color": "#111", "strokeWidth": 1.3}},
  {"data": {"name": "pk"}, "transform": [{"filter": "datum.p == 'e'"}], "mark": {"type": "point", "shape": "stroke", "color": "#e06666", "size": 30, "strokeWidth": 1, "opacity": 1}},
  {"data": {"name": "pl"}, "transform": [{"filter": "datum.p == 'e'"}], "mark": {"type": "text", "font": "Liberation Sans", "fontSize": 7.5, "color": "#444", "baseline": "bottom", "dy": -1}, "encoding": {"text": {"field": "t"}}},
  {"data": {"name": "ar"}, "transform": [{"filter": "datum.p == 'e'"}], "mark": {"type": "rule", "color": "#2c3ee6", "strokeWidth": 1.3}, "encoding": {"x2": {"field": "x2"}, "y2": {"field": "y2"}}},
  {"data": {"name": "ar"}, "transform": [{"filter": "datum.p == 'e'"}, {"calculate": "atan2((datum.x-datum.x2)*0.08476,(datum.y-datum.y2)*0.2067)*180/PI", "as": "ang"}], "mark": {"type": "point", "shape": "triangle-up", "filled": true, "color": "#2c3ee6", "size": 28, "opacity": 1}, "encoding": {"angle": {"field": "ang", "type": "quantitative", "scale": null}}},
  {"data": {"name": "an"}, "transform": [{"filter": "datum.p == 'e'"}], "mark": {"type": "text", "font": "Liberation Sans", "fontSize": 8, "color": "#333"}, "encoding": {"text": {"field": "t"}}},
  {"data": {"name": "sh"}, "transform": [{"filter": "datum.p == 'e'"}], "mark": {"type": "text", "font": "Liberation Serif", "fontSize": 13, "fontWeight": "bold", "align": "left", "color": "#111"}, "encoding": {"text": {"field": "t"}}},
  {"data": {"name": "sv"}, "transform": [{"filter": "datum.p == 'e'"}], "mark": {"type": "text", "font": "Liberation Serif", "fontSize": 14, "fontStyle": "italic", "align": "left", "color": "#111"}, "encoding": {"text": {"field": "t"}}},
  {"data": {"name": "ss"}, "transform": [{"filter": "datum.p == 'e'"}], "mark": {"type": "text", "font": "Liberation Sans", "fontSize": 6.5, "fontWeight": "bold", "align": "left", "color": "#111"}, "encoding": {"text": {"field": "t"}}},
  {"data": {"name": "sr"}, "transform": [{"filter": "datum.p == 'e'"}], "mark": {"type": "text", "font": "Liberation Serif", "fontSize": 13, "align": "left", "color": "#111"}, "encoding": {"text": {"field": "t"}}}
 ]
},
{
 "width": 178, "height": 124,
 "encoding": {
  "x": {"field": "x", "type": "quantitative", "scale": {"domain": [400, 2500], "nice": false, "zero": false}, "axis": {"values": [500, 1000, 1500, 2000, 2500], "format": "d", "title": "wave number / cm⁻¹"}},
  "y": {"field": "y", "type": "quantitative", "scale": {"domain": [200, 600], "nice": false, "zero": false}, "axis": {"values": [200, 300, 400, 500, 600], "format": "d", "title": "intensity"}}
 },
 "layer": [
  {"data": {"name": "sp"}, "transform": [{"filter": "datum.p == 'f'"}], "mark": {"type": "line", "color": "#111", "strokeWidth": 1.3}},
  {"data": {"name": "pk"}, "transform": [{"filter": "datum.p == 'f'"}], "mark": {"type": "point", "shape": "stroke", "color": "#e06666", "size": 30, "strokeWidth": 1, "opacity": 1}},
  {"data": {"name": "pl"}, "transform": [{"filter": "datum.p == 'f'"}], "mark": {"type": "text", "font": "Liberation Sans", "fontSize": 7.5, "color": "#444", "baseline": "bottom", "dy": -1}, "encoding": {"text": {"field": "t"}}},
  {"data": {"name": "ar"}, "transform": [{"filter": "datum.p == 'f'"}], "mark": {"type": "rule", "color": "#2c3ee6", "strokeWidth": 1.3}, "encoding": {"x2": {"field": "x2"}, "y2": {"field": "y2"}}},
  {"data": {"name": "ar"}, "transform": [{"filter": "datum.p == 'f'"}, {"calculate": "atan2((datum.x-datum.x2)*0.08476,(datum.y-datum.y2)*0.31)*180/PI", "as": "ang"}], "mark": {"type": "point", "shape": "triangle-up", "filled": true, "color": "#2c3ee6", "size": 28, "opacity": 1}, "encoding": {"angle": {"field": "ang", "type": "quantitative", "scale": null}}},
  {"data": {"name": "an"}, "transform": [{"filter": "datum.p == 'f'"}], "mark": {"type": "text", "font": "Liberation Sans", "fontSize": 8, "color": "#333"}, "encoding": {"text": {"field": "t"}}},
  {"data": {"name": "sh"}, "transform": [{"filter": "datum.p == 'f'"}], "mark": {"type": "text", "font": "Liberation Serif", "fontSize": 13, "fontWeight": "bold", "align": "left", "color": "#111"}, "encoding": {"text": {"field": "t"}}},
  {"data": {"name": "sr"}, "transform": [{"filter": "datum.p == 'f'"}], "mark": {"type": "text", "font": "Liberation Serif", "fontSize": 13, "align": "left", "color": "#111"}, "encoding": {"text": {"field": "t"}}}
 ]
}
]
}
